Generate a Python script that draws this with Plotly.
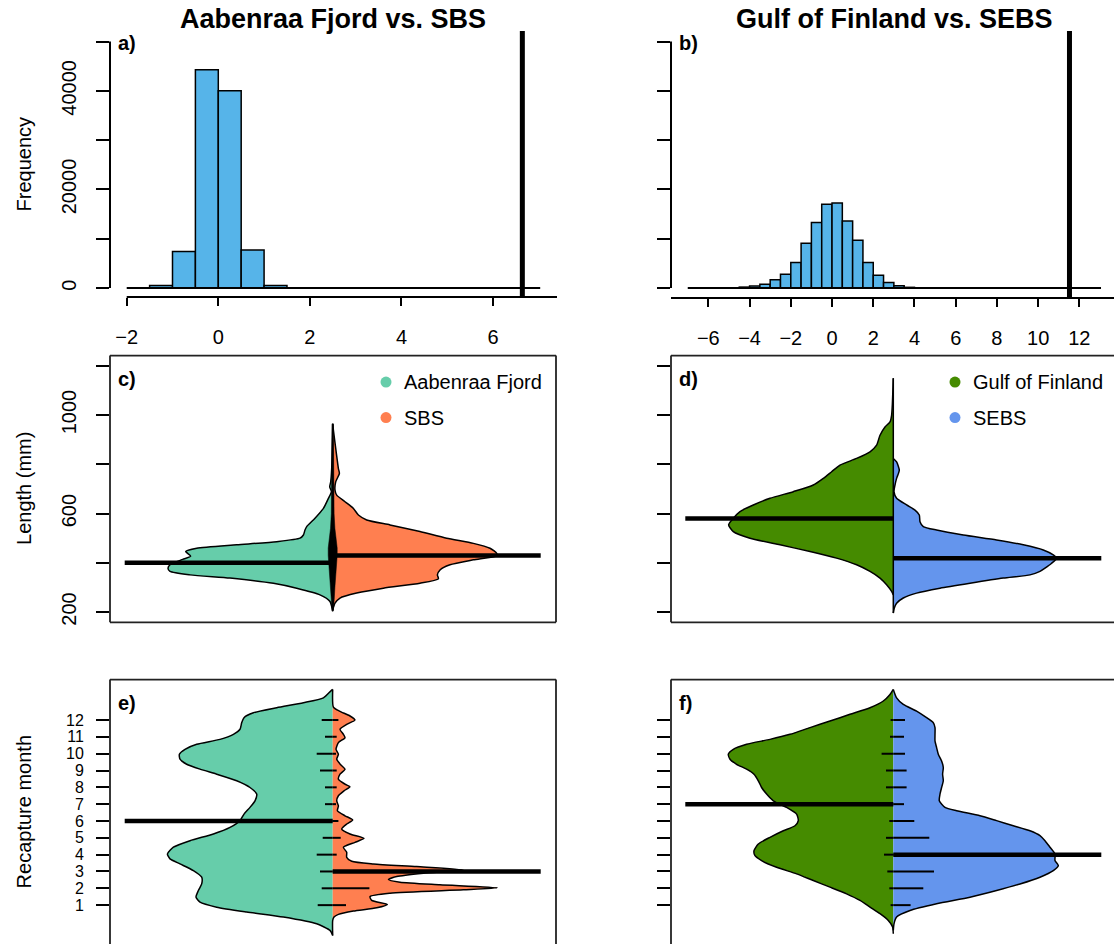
import plotly.graph_objects as go

# ---------------- data ----------------
# a) permutation histogram, Aabenraa Fjord vs. SBS
hist_a_centers = [-1.25, -0.75, -0.25, 0.25, 0.75, 1.25]
hist_a_counts = [500, 7400, 44300, 40000, 7700, 500]
hist_a_span = [-2.0, 7.03]
observed_a = 6.64
hist_a_xticks = [-2, 0, 2, 4, 6]

# b) permutation histogram, Gulf of Finland vs. SEBS
hist_b_centers = [-4.25, -3.75, -3.25, -2.75, -2.25, -1.75, -1.25, -0.75, -0.25,
                  0.25, 0.75, 1.25, 1.75, 2.25, 2.75, 3.25, 3.75]
hist_b_counts = [200, 400, 800, 1700, 2800, 5200, 9100, 13300, 17000,
                 17250, 13600, 9700, 5200, 2600, 1150, 470, 150]
hist_b_span = [-7.0, 13.05]
observed_b = 11.52
hist_b_xticks = [-6, -4, -2, 0, 2, 4, 6, 8, 10, 12]

freq_ticks = [0, 10000, 20000, 30000, 40000, 50000]
freq_labels = ["0", "", "20000", "", "40000", ""]

# c) length beans
c_af_len = [965, 783, 729, 709, 689, 662, 621, 581, 547, 533, 513, 500, 486, 473, 459,
            446, 427, 414, 392, 378, 365, 351, 338, 317, 297, 270, 243, 203]
c_af_dens = [0, 0.01, 0.02, 0.03, 0.013, 0.043, 0.093, 0.177, 0.26, 0.277, 0.293, 0.327, 0.56,
             0.96, 1.36, 1.47, 1.42, 1.50, 1.627, 1.647, 1.627, 1.427, 1.027, 0.593, 0.36,
             0.127, 0.027, 0]
c_sbs_len = [961, 783, 763, 729, 695, 675, 648, 621, 594, 574, 554, 527, 500, 479, 459, 439,
             429, 412, 392, 371, 351, 335, 317, 297, 277, 257, 236, 209]
c_sbs_dens = [0, 0.057, 0.067, 0.03, 0.023, 0.04, 0.123, 0.207, 0.257, 0.34, 0.573, 0.873,
              1.14, 1.407, 1.573, 1.64, 1.64, 1.407, 1.173, 1.073, 1.047, 1.057, 0.873, 0.507,
              0.24, 0.073, 0.023, 0]
c_rug_len = [965, 800, 700, 600, 540, 500, 460, 430, 400, 350, 300, 250, 205]
c_rug_half = [0.006, 0.008, 0.01, 0.014, 0.022, 0.033, 0.045, 0.045, 0.038, 0.028, 0.022, 0.015, 0.006]
c_avg = [400, 430]

# d) length beans
d_gof_len = [1150, 1040, 999, 972, 952, 918, 878, 851, 824, 797, 770, 743, 716, 689, 662,
             635, 608, 581, 554, 527, 500, 473, 446, 419, 392, 365, 338, 311, 284, 270]
d_gof_dens = [0, 0.01, 0.017, 0.033, 0.083, 0.133, 0.167, 0.233, 0.367, 0.533, 0.617, 0.7,
              0.8, 1.0, 1.233, 1.4, 1.533, 1.6, 1.647, 1.6, 1.433, 1.133, 0.833, 0.567, 0.367,
              0.233, 0.133, 0.067, 0.017, 0]
d_sebs_len = [824, 810, 776, 743, 716, 689, 662, 635, 614, 594, 567, 547, 533, 513, 493, 473,
              452, 432, 419, 398, 378, 365, 351, 338, 317, 297, 277, 257, 236, 216, 196]
d_sebs_dens = [0, 0.033, 0.06, 0.033, 0.017, 0.007, 0.033, 0.133, 0.217, 0.26, 0.267, 0.3,
               0.433, 0.7, 1.033, 1.3, 1.5, 1.6, 1.633, 1.583, 1.517, 1.467, 1.367, 1.1, 0.767,
               0.467, 0.233, 0.1, 0.033, 0.01, 0]
d_rug_span = [196, 1150]
d_avg = [580, 419]

length_ticks = [200, 400, 600, 800, 1000, 1200]
length_labels = ["200", "", "600", "", "1000", ""]

# e) recapture month beans
e_af_month = [13.82, 13.72, 13.32, 13.03, 12.73, 12.43, 12.14, 11.84, 11.45, 11.15,
              10.85, 10.56, 10.26, 9.97, 9.67, 9.37, 9.08, 8.78, 8.39, 7.99,
              7.60, 7.20, 6.81, 6.41, 6.02, 5.62, 5.23, 4.83, 4.44, 4.04,
              3.75, 3.45, 3.05, 2.66, 2.26, 1.87, 1.47, 1.18, 0.88, 0.59,
              0.29, -0.11, -0.50, -0.80]
e_af_dens = [0, 0.02, 0.093, 0.293, 0.56, 0.793, 0.887, 0.91, 0.927, 0.993,
             1.127, 1.36, 1.477, 1.533, 1.527, 1.46, 1.327, 1.16, 0.96, 0.827,
             0.76, 0.777, 0.827, 0.887, 0.927, 1.027, 1.193, 1.427, 1.593, 1.653,
             1.627, 1.527, 1.393, 1.31, 1.31, 1.343, 1.367, 1.327, 1.16, 0.86,
             0.493, 0.16, 0.027, 0]
e_sbs_month = [13.82, 12.77, 12.53, 12.24, 12.00, 11.74, 11.45, 11.15, 10.95, 10.66,
               10.26, 9.97, 9.67, 9.34, 9.08, 8.78, 8.48, 8.19, 8.03, 7.79,
               7.50, 7.20, 6.90, 6.61, 6.31, 6.06, 5.82, 5.52, 5.23, 4.97,
               4.73, 4.44, 4.14, 3.84, 3.61, 3.45, 3.29, 3.09, 2.90, 2.70,
               2.52, 2.36, 2.21, 2.03, 1.91, 1.71, 1.51, 1.28, 1.04, 0.84,
               0.65, 0.45, 0.29, 0.09, -0.80]
e_sbs_dens = [0, 0.007, 0.067, 0.173, 0.223, 0.14, 0.073, 0.107, 0.123, 0.057,
              0.033, 0.057, 0.04, 0.08, 0.123, 0.073, 0.057, 0.123, 0.173, 0.113,
              0.057, 0.04, 0.057, 0.047, 0.123, 0.2, 0.14, 0.09, 0.173, 0.313,
              0.223, 0.107, 0.14, 0.14, 0.19, 0.407, 0.84, 1.307, 0.907, 0.64,
              0.557, 0.673, 1.073, 1.647, 1.307, 0.573, 0.373, 0.39, 0.547, 0.44,
              0.207, 0.057, 0.013, 0, 0]
e_avg = [6, 3]

# f) recapture month beans
f_gof_month = [13.82, 13.52, 13.13, 12.73, 12.34, 11.94, 11.55, 11.15, 10.85, 10.56,
               10.26, 9.97, 9.67, 9.37, 9.08, 8.78, 8.39, 7.99, 7.60, 7.20,
               6.81, 6.41, 6.02, 5.72, 5.42, 5.03, 4.63, 4.24, 3.94, 3.65,
               3.25, 2.86, 2.46, 2.07, 1.67, 1.28, 0.88, 0.49, 0.09, -0.30, -0.70]
f_gof_dens = [0, 0.033, 0.1, 0.233, 0.433, 0.633, 0.833, 1.033, 1.233, 1.467,
              1.6, 1.65, 1.633, 1.567, 1.467, 1.393, 1.35, 1.317, 1.267, 1.2,
              1.067, 0.967, 0.95, 0.983, 1.1, 1.233, 1.35, 1.393, 1.383, 1.317,
              1.167, 0.967, 0.8, 0.633, 0.467, 0.333, 0.233, 0.133, 0.05, 0.007, 0]
f_sebs_month = [13.82, 13.32, 12.93, 12.53, 12.14, 11.84, 11.55, 11.15, 10.76, 10.36,
                9.97, 9.57, 9.18, 8.78, 8.39, 7.99, 7.60, 7.20, 6.81, 6.61,
                6.31, 6.02, 5.72, 5.42, 5.13, 4.83, 4.44, 4.04, 3.65, 3.35,
                3.05, 2.66, 2.26, 1.87, 1.47, 1.08, 0.68, 0.29, -0.11, -0.50]
f_sebs_dens = [0, 0.033, 0.1, 0.233, 0.333, 0.4, 0.417, 0.417, 0.417, 0.433,
               0.45, 0.483, 0.5, 0.493, 0.5, 0.483, 0.467, 0.46, 0.517, 0.633,
               0.867, 1.033, 1.2, 1.367, 1.467, 1.517, 1.567, 1.617, 1.617, 1.65,
               1.6, 1.467, 1.267, 1.033, 0.767, 0.433, 0.167, 0.033, 0.007, 0]
f_avg = [7, 4]

months = [1, 2, 3, 4, 5, 6, 7, 8, 9, 10, 11, 12]
e_af_line = [0.15, 0.11, 0.127, 0.16, 0.1, 0.1, 0.077, 0.077, 0.127, 0.16, 0.077, 0.11]
e_sbs_line = [0.133, 0.367, 0.3, 0.04, 0.08, 0.057, 0.033, 0.04, 0.04, 0.033, 0.04, 0.057]
f_gof_line = [0.027, 0.04, 0.06, 0.093, 0.073, 0.04, 0.07, 0.073, 0.073, 0.117, 0.033, 0.027]
f_sebs_line = [0.173, 0.3, 0.407, 0.4, 0.36, 0.21, 0.107, 0.133, 0.133, 0.117, 0.107, 0.117]
avg_line_len = 2.08

titles = ["Aabenraa Fjord vs. SBS", "Gulf of Finland vs. SEBS"]
groups_left = ["Aabenraa Fjord", "Gulf of Finland"]
groups_right = ["SBS", "SEBS"]

# ---------------- styling ----------------
W, H = 1114, 947
FONT = "Liberation Sans, Arial, sans-serif"
C_AF, C_SBS, C_GOF, C_SEBS, C_HIST = "#66CDAA", "#FF7F50", "#458B00", "#6495ED", "#56B4E9"


def fx(p):
    return p / W


def fy(p):
    return 1 - p / H


fig = go.Figure()

# ---- histograms ----
for xa, ya, cen, cnt, span, obs in [("x", "y", hist_a_centers, hist_a_counts, hist_a_span, observed_a),
                                    ("x2", "y2", hist_b_centers, hist_b_counts, hist_b_span, observed_b)]:
    fig.add_trace(go.Scatter(x=span, y=[0, 0], mode="lines", line=dict(color="black", width=2),
                             xaxis=xa, yaxis=ya, showlegend=False, hoverinfo="skip"))
    fig.add_trace(go.Bar(x=cen, y=cnt, width=0.5, marker=dict(color=C_HIST, line=dict(color="black", width=1.5)),
                         xaxis=xa, yaxis=ya, showlegend=False, hoverinfo="skip"))
    fig.add_shape(type="line", xref=xa, yref=ya + " domain", x0=obs, x1=obs, y0=0, y1=1,
                  line=dict(color="black", width=5))


def half(y, dens, side, color, xa, ya):
    fig.add_trace(go.Scatter(x=[side * d for d in dens], y=y, mode="lines", fill="toself",
                             fillcolor=color, line=dict(color="black", width=1.5, shape="spline", smoothing=0.6),
                             xaxis=xa, yaxis=ya, showlegend=False, hoverinfo="skip"))


def avg_lines(vals, xa, ya):
    for side, v in zip([-1, 1], vals):
        fig.add_trace(go.Scatter(x=[0, side * avg_line_len], y=[v, v], mode="lines",
                                 line=dict(color="black", width=4.5), xaxis=xa, yaxis=ya,
                                 showlegend=False, hoverinfo="skip"))


def bean_lines(left, right, xa, ya):
    xs, ys = [], []
    for m, l, r in zip(months, left, right):
        xs += [-l, 0, None, 0, r, None]
        ys += [m, m, None, m, m, None]
    fig.add_trace(go.Scatter(x=xs, y=ys, mode="lines", line=dict(color="black", width=2),
                             xaxis=xa, yaxis=ya, showlegend=False, hoverinfo="skip"))


# c)
half(c_af_len, c_af_dens, -1, C_AF, "x3", "y3")
half(c_sbs_len, c_sbs_dens, 1, C_SBS, "x3", "y3")
fig.add_trace(go.Scatter(x=[0, 0], y=[c_rug_len[-1], c_rug_len[0]], mode="lines",
                         line=dict(color="black", width=1.5), xaxis="x3", yaxis="y3",
                         showlegend=False, hoverinfo="skip"))
fig.add_trace(go.Scatter(x=c_rug_half + [-h for h in c_rug_half[::-1]],
                         y=c_rug_len + c_rug_len[::-1], mode="lines", fill="toself",
                         fillcolor="black", line=dict(color="black", width=0.5),
                         xaxis="x3", yaxis="y3", showlegend=False, hoverinfo="skip"))
avg_lines(c_avg, "x3", "y3")

# d)
half(d_gof_len, d_gof_dens, -1, C_GOF, "x4", "y4")
half(d_sebs_len, d_sebs_dens, 1, C_SEBS, "x4", "y4")
fig.add_trace(go.Scatter(x=[0, 0], y=d_rug_span, mode="lines", line=dict(color="black", width=1.5),
                         xaxis="x4", yaxis="y4", showlegend=False, hoverinfo="skip"))
avg_lines(d_avg, "x4", "y4")

# e)
half(e_af_month, e_af_dens, -1, C_AF, "x5", "y5")
half(e_sbs_month, e_sbs_dens, 1, C_SBS, "x5", "y5")
bean_lines(e_af_line, e_sbs_line, "x5", "y5")
avg_lines(e_avg, "x5", "y5")

# f)
half(f_gof_month, f_gof_dens, -1, C_GOF, "x6", "y6")
half(f_sebs_month, f_sebs_dens, 1, C_SEBS, "x6", "y6")
bean_lines(f_gof_line, f_sebs_line, "x6", "y6")
avg_lines(f_avg, "x6", "y6")

# legends (c, d)
for xa, ya, names, cols, xd in [("x3", "y3", [groups_left[0], groups_right[0]], [C_AF, C_SBS], 0.533),
                                ("x4", "y4", [groups_left[1], groups_right[1]], [C_GOF, C_SEBS], 0.617)]:
    for nm, col, yv in zip(names, cols, [1134, 990]):
        fig.add_trace(go.Scatter(x=[xd], y=[yv], mode="markers", marker=dict(color=col, size=11),
                                 xaxis=xa, yaxis=ya, showlegend=False, hoverinfo="skip"))
        fig.add_annotation(x=xd + 0.155, y=yv, xref=xa, yref=ya, text=nm, showarrow=False,
                           xanchor="left", yanchor="middle", font=dict(family=FONT, size=20, color="black"))

# ---------------- axes ----------------
tickf = dict(family=FONT, size=20, color="black")
common = dict(showgrid=False, zeroline=False, ticks="outside", tickcolor="black", tickwidth=2,
              tickfont=tickf, fixedrange=True)

ax_a = [110, 557]
ax_b = [671, 1114]
ax_c = [110, 556]
row1 = [31, 298]
row2 = [356.7, 624.3]
row3 = [681.7, 947]

lay = dict(
    xaxis=dict(domain=[fx(ax_a[0]), fx(ax_a[1])], range=[-2.365, 7.397], anchor="y",
               tickvals=hist_a_xticks, ticktext=[str(v).replace("-", "\u2212") for v in hist_a_xticks],
               ticklen=8, ticklabelstandoff=14, **common),
    yaxis=dict(domain=[fy(row1[1]), fy(row1[0])], range=[-1820, 52163], anchor="x",
               tickvals=freq_ticks, ticktext=freq_labels, tickangle=-90, ticklen=13,
               ticklabelstandoff=12, **common),
    xaxis2=dict(domain=[fx(ax_b[0]), fx(ax_b[1])], range=[-7.812, 13.68], anchor="y2",
                tickvals=hist_b_xticks, ticktext=[str(v).replace("-", "\u2212") for v in hist_b_xticks],
                ticklen=8, ticklabelstandoff=14, showline=True, linecolor="black", linewidth=2, **common),
    yaxis2=dict(domain=[fy(row1[1]), fy(row1[0])], range=[-1820, 52163], anchor="x2",
                tickvals=freq_ticks, showticklabels=False, ticklen=13, **common),
    xaxis3=dict(domain=[fx(ax_c[0]), fx(ax_c[1])], range=[-2.227, 2.233], anchor="y3", visible=False),
    yaxis3=dict(domain=[fy(row2[1]), fy(row2[0])], range=[158.3, 1241.8], anchor="x3",
                tickvals=length_ticks, ticktext=length_labels, tickangle=-90, ticklen=13,
                ticklabelstandoff=12, **common),
    xaxis4=dict(domain=[fx(ax_b[0]), fx(ax_b[1])], range=[-2.223, 2.207], anchor="y4", visible=False),
    yaxis4=dict(domain=[fy(row2[1]), fy(row2[0])], range=[158.3, 1241.8], anchor="x4",
                tickvals=length_ticks, showticklabels=False, ticklen=13, **common),
    xaxis5=dict(domain=[fx(ax_c[0]), fx(ax_c[1])], range=[-2.227, 2.233], anchor="y5", visible=False),
    yaxis5=dict(domain=[0, fy(row3[0])], range=[-1.310, 14.406], anchor="x5",
                tickvals=months, ticktext=[str(m) for m in months], ticklen=13, ticklabelstandoff=9,
                **{**common, "tickfont": dict(family=FONT, size=16, color="black")}),
    xaxis6=dict(domain=[fx(ax_b[0]), fx(ax_b[1])], range=[-2.223, 2.207], anchor="y6", visible=False),
    yaxis6=dict(domain=[0, fy(row3[0])], range=[-1.310, 14.406], anchor="x6",
                tickvals=months, showticklabels=False, ticklen=13, **common),
)
fig.update_layout(**lay)

# axis lines drawn R-style
fig.add_shape(type="line", xref="x", yref="y domain", x0=hist_a_xticks[0], x1=7.397, y0=0, y1=0,
              line=dict(color="black", width=2))
for ya, xa in [("y", "x"), ("y2", "x2")]:
    fig.add_shape(type="line", xref=xa + " domain", yref=ya, x0=0, x1=0, y0=freq_ticks[0], y1=freq_ticks[-1],
                  line=dict(color="black", width=2))


# panel boxes
def box(xa, ya, sides):
    segs = {"top": (0, 1, 1, 1), "bottom": (0, 0, 1, 0), "left": (0, 0, 0, 1), "right": (1, 0, 1, 1)}
    for s in sides:
        x0, y0, x1, y1 = segs[s]
        fig.add_shape(type="line", xref=xa + " domain", yref=ya + " domain", x0=x0, y0=y0, x1=x1, y1=y1,
                      line=dict(color="#222222", width=1.8))


box("x3", "y3", ["top", "bottom", "left", "right"])
box("x4", "y4", ["top", "bottom", "left"])
box("x5", "y5", ["top", "left", "right"])
box("x6", "y6", ["top", "left"])


# titles & labels
def ann(px, py, text, size=20, bold=False, angle=0, xanchor="center"):
    fig.add_annotation(x=fx(px), y=fy(py), xref="paper", yref="paper", text=("<b>%s</b>" % text) if bold else text,
                       showarrow=False, textangle=angle, xanchor=xanchor, yanchor="middle",
                       font=dict(family=FONT, size=size, color="black"))


ann(333, 19, titles[0], size=27, bold=True)
ann(894, 19, titles[1], size=27, bold=True)
ann(23.5, 164.5, "Frequency", angle=-90)
ann(24, 490.5, "Length (mm)", angle=-90)
ann(24, 815, "Recapture month", angle=-90)
for lab, px, py in [("a)", 116, 43), ("b)", 677, 43), ("c)", 116, 380), ("d)", 677, 380),
                    ("e)", 116, 705), ("f)", 677, 705)]:
    ann(px, py, lab, size=20, bold=True, xanchor="left")

fig.update_layout(width=W, height=H, margin=dict(l=0, r=0, t=0, b=0), autosize=False,
                  plot_bgcolor="white", paper_bgcolor="white", barmode="overlay",
                  font=dict(family=FONT, color="black"))

fig.write_html("out.html")
